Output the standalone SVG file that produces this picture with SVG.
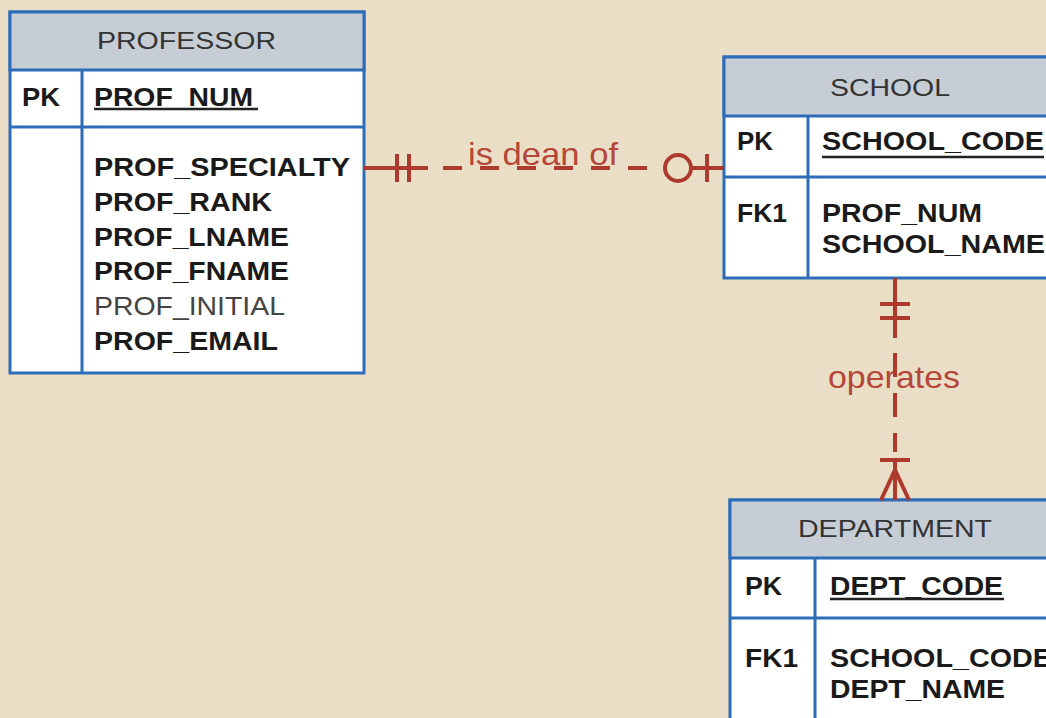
<svg xmlns="http://www.w3.org/2000/svg" width="1046" height="718" viewBox="0 0 1046 718">
<style>
.box{fill:#ffffff;stroke:#2c6cb8;stroke-width:3}
.hdr{fill:#c6cdd4;stroke:#2c6cb8;stroke-width:3}
.sep{stroke:#2c6cb8;stroke-width:3;fill:none}
.title{font-family:"Liberation Sans",Arial,sans-serif;font-size:24px;fill:#333333}
.b{font-family:"Liberation Sans",Arial,sans-serif;font-size:25px;font-weight:bold;fill:#1a1a1a}
.n{font-family:"Liberation Sans",Arial,sans-serif;font-size:25px;fill:#444444}
.ul{stroke:#222;stroke-width:2.5}
.rel{stroke:#ad3a2c;stroke-width:4;fill:none}
.lbl{font-family:"Liberation Sans",Arial,sans-serif;font-size:32px;fill:#b5463a}
</style>
<rect width="1046" height="718" fill="#eadec7"/>

<g id="professor">
<rect class="box" x="10" y="12" width="354" height="361"/>
<rect class="hdr" x="10" y="12" width="354" height="58"/>
<line class="sep" x1="10" y1="127" x2="364" y2="127"/>
<line class="sep" x1="82" y1="70" x2="82" y2="373"/>
<text class="title" x="97" y="49" textLength="179" lengthAdjust="spacingAndGlyphs">PROFESSOR</text>
<text class="b" x="22" y="106" textLength="38" lengthAdjust="spacingAndGlyphs">PK</text>
<text class="b" x="94" y="106" textLength="159" lengthAdjust="spacingAndGlyphs">PROF_NUM</text>
<line class="ul" x1="94" y1="109" x2="258" y2="109"/>
<text class="b" x="94" y="176" textLength="256" lengthAdjust="spacingAndGlyphs">PROF_SPECIALTY</text>
<text class="b" x="94" y="211" textLength="178" lengthAdjust="spacingAndGlyphs">PROF_RANK</text>
<text class="b" x="94" y="246" textLength="195" lengthAdjust="spacingAndGlyphs">PROF_LNAME</text>
<text class="b" x="94" y="280" textLength="195" lengthAdjust="spacingAndGlyphs">PROF_FNAME</text>
<text class="n" x="94" y="315" textLength="191" lengthAdjust="spacingAndGlyphs">PROF_INITIAL</text>
<text class="b" x="94" y="350" textLength="184" lengthAdjust="spacingAndGlyphs">PROF_EMAIL</text>
</g>

<g id="school">
<rect class="box" x="724" y="57" width="334" height="221"/>
<rect class="hdr" x="724" y="57" width="334" height="59"/>
<line class="sep" x1="724" y1="177" x2="1058" y2="177"/>
<line class="sep" x1="808" y1="116" x2="808" y2="278"/>
<text class="title" x="830" y="96" textLength="120" lengthAdjust="spacingAndGlyphs">SCHOOL</text>
<text class="b" x="737" y="150" textLength="36" lengthAdjust="spacingAndGlyphs">PK</text>
<text class="b" x="822" y="150" textLength="222" lengthAdjust="spacingAndGlyphs">SCHOOL_CODE</text>
<line class="ul" x1="822" y1="157" x2="1044" y2="157" stroke="#555"/>
<text class="b" x="737" y="222" textLength="50" lengthAdjust="spacingAndGlyphs">FK1</text>
<text class="b" x="822" y="222" textLength="160" lengthAdjust="spacingAndGlyphs">PROF_NUM</text>
<text class="b" x="822" y="253" textLength="223" lengthAdjust="spacingAndGlyphs">SCHOOL_NAME</text>
</g>

<g id="department">
<rect class="box" x="730" y="500" width="332" height="240"/>
<rect class="hdr" x="730" y="500" width="332" height="58"/>
<line class="sep" x1="730" y1="618" x2="1062" y2="618"/>
<line class="sep" x1="815" y1="558" x2="815" y2="740"/>
<text class="title" x="798" y="537" textLength="194" lengthAdjust="spacingAndGlyphs">DEPARTMENT</text>
<text class="b" x="745" y="595" textLength="37" lengthAdjust="spacingAndGlyphs">PK</text>
<text class="b" x="830" y="595" textLength="173" lengthAdjust="spacingAndGlyphs">DEPT_CODE</text>
<line class="ul" x1="830" y1="599" x2="1004" y2="599" stroke="#555"/>
<text class="b" x="745" y="667" textLength="53" lengthAdjust="spacingAndGlyphs">FK1</text>
<text class="b" x="830" y="667" textLength="222" lengthAdjust="spacingAndGlyphs">SCHOOL_CODE</text>
<text class="b" x="830" y="698" textLength="175" lengthAdjust="spacingAndGlyphs">DEPT_NAME</text>
</g>

<g id="connectors">
<g id="is-dean-of">
<text class="lbl" x="468" y="165" textLength="150" lengthAdjust="spacingAndGlyphs">is dean of</text>
<line class="rel" x1="364" y1="168" x2="428" y2="168"/>
<line class="rel" x1="397" y1="154" x2="397" y2="182"/>
<line class="rel" x1="409" y1="154" x2="409" y2="182"/>
<line class="rel" x1="443" y1="168" x2="655" y2="168" stroke-dasharray="19 18"/>
<circle class="rel" cx="678" cy="168" r="13"/>
<line class="rel" x1="691" y1="168" x2="724" y2="168"/>
<line class="rel" x1="707" y1="154" x2="707" y2="182"/>
</g>
<g id="operates">
<text class="lbl" x="828" y="388" textLength="132" lengthAdjust="spacingAndGlyphs">operates</text>
<line class="rel" x1="895" y1="278" x2="895" y2="338"/>
<line class="rel" x1="880" y1="304" x2="910" y2="304"/>
<line class="rel" x1="880" y1="318" x2="910" y2="318"/>
<line class="rel" x1="895" y1="353" x2="895" y2="452" stroke-dasharray="24 16"/>
<line class="rel" x1="895" y1="460" x2="895" y2="500"/>
<line class="rel" x1="880" y1="460" x2="910" y2="460"/>
<path class="rel" d="M881 500 L895 470 L909 500"/>
</g>
</g>
</svg>
